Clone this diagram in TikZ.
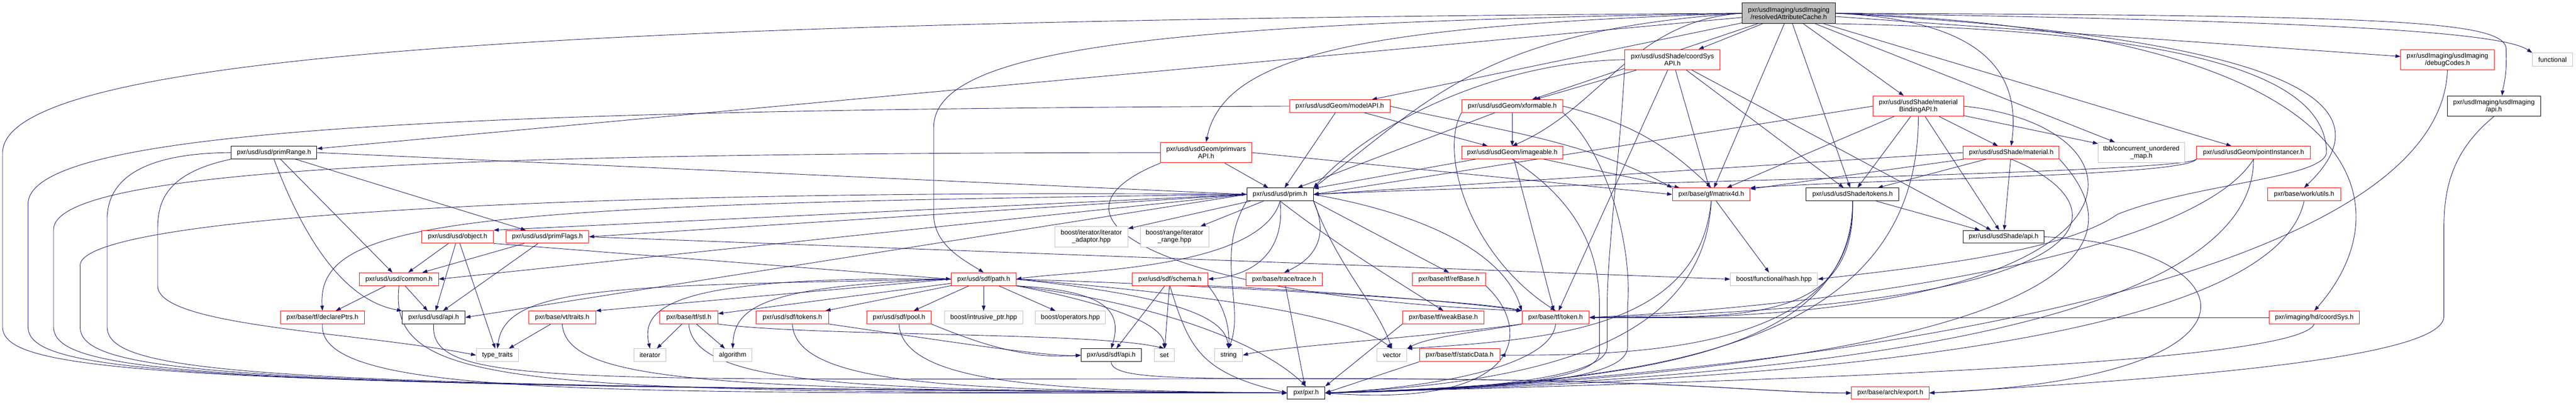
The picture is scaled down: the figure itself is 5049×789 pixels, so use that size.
\documentclass[tikz,border=0pt]{standalone}
\usepackage{fontspec}
\setmainfont{Liberation Sans}
\usetikzlibrary{arrows.meta,calc}
\pgfdeclarelayer{bg}
\pgfsetlayers{bg,main}
\definecolor{edgec}{HTML}{191970}
\definecolor{grayb}{HTML}{BFBFBF}
\tikzset{
  nb/.style={rectangle, fill=white, line width=1pt, inner sep=0pt, font=\fontsize{13}{14}\selectfont, align=center, minimum height=25pt},
  tw/.style={minimum height=40pt},
  rb/.style={nb, draw=red},
  kb/.style={nb, draw=black},
  gb/.style={nb, draw=grayb},
  w/.style={minimum width=#1pt},
  e/.style={draw=edgec, line width=0.9pt, -{Triangle[length=10pt,width=7pt]}},
}
\begin{document}
\begin{tikzpicture}[x=1pt,y=-1pt]
\useasboundingbox (0,0) rectangle (5049,789);
% row 0
\node[kb, tw, w=182, fill=grayb] (T) at (3506,26) {pxr/usdImaging/usdImaging\\/resolvedAttributeCache.h};
% row 1
\node[rb, tw, w=187] (C) at (3278,117) {pxr/usd/usdShade/coordSys\\API.h};
\node[rb, tw, w=183] (DC) at (4797,117) {pxr/usdImaging/usdImaging\\/debugCodes.h};
\node[gb, w=79, minimum height=26pt] (FN) at (5003,117) {functional};
% row 2
\node[rb, w=197] (M) at (2626,208) {pxr/usd/usdGeom/modelAPI.h};
\node[rb, w=198] (X) at (2964,208) {pxr/usd/usdGeom/xformable.h};
\node[rb, tw, w=177] (MB) at (3760,208) {pxr/usd/usdShade/material\\BindingAPI.h};
\node[kb, tw, w=183] (UIA) at (4888,208) {pxr/usdImaging/usdImaging\\/api.h};
% row 3
\node[kb, w=168] (PR) at (537,299) {pxr/usd/usd/primRange.h};
\node[rb, tw, w=178] (PV) at (2364,299) {pxr/usd/usdGeom/primvars\\API.h};
\node[rb, w=198] (I) at (2964,299) {pxr/usd/usdGeom/imageable.h};
\node[rb, w=188] (MA) at (3942,299) {pxr/usd/usdShade/material.h};
\node[gb, tw, w=169] (TBB) at (4197,299) {tbb/concurrent\_unordered\\\_map.h};
\node[rb, w=223] (PI) at (4417,299) {pxr/usd/usdGeom/pointInstancer.h};
% row 4
\node[kb, w=130] (P) at (2509,381) {pxr/usd/usd/prim.h};
\node[rb, w=152] (MX) at (3354,381) {pxr/base/gf/matrix4d.h};
\node[kb, w=182] (SK) at (3631,381) {pxr/usd/usdShade/tokens.h};
\node[rb, w=143] (WU) at (4516,381) {pxr/base/work/utils.h};
% row 5
\node[rb, w=140] (O) at (897,464) {pxr/usd/usd/object.h};
\node[rb, w=162] (PF) at (1073,464) {pxr/usd/usd/primFlags.h};
\node[gb, tw, w=143] (IA) at (2139,464) {boost/iterator/iterator\\\_adaptor.hpp};
\node[gb, tw, w=134] (IR) at (2302,464) {boost/range/iterator\\\_range.hpp};
\node[kb, w=159] (SA) at (3927,464) {pxr/usd/usdShade/api.h};
% row 6
\node[rb, w=155] (CM) at (782,547) {pxr/usd/usd/common.h};
\node[rb, w=127] (PA) at (1928,547) {pxr/usd/sdf/path.h};
\node[rb, w=149] (SC) at (2293,547) {pxr/usd/sdf/schema.h};
\node[rb, w=150] (TR) at (2517,547) {pxr/base/trace/trace.h};
\node[rb, w=143] (RB) at (2840,547) {pxr/base/tf/refBase.h};
\node[gb, w=171] (HH) at (3477,547) {boost/functional/hash.hpp};
% row 7
\node[rb, w=165] (DP) at (632,622) {pxr/base/tf/declarePtrs.h};
\node[kb, w=123] (UA) at (850,622) {pxr/usd/usd/api.h};
\node[rb, w=131] (VT) at (1102,622) {pxr/base/vt/traits.h};
\node[rb, w=114] (ST) at (1350,622) {pxr/base/tf/stl.h};
\node[rb, w=142] (STK) at (1553,622) {pxr/usd/sdf/tokens.h};
\node[rb, w=126] (PO) at (1762,622) {pxr/usd/sdf/pool.h};
\node[gb, w=154] (IP) at (1928,622) {boost/intrusive\_ptr.hpp};
\node[gb, w=137] (OP) at (2098,622) {boost/operators.hpp};
\node[rb, w=160] (WB) at (2829,622) {pxr/base/tf/weakBase.h};
\node[rb, w=132] (TK) at (3049,622) {pxr/base/tf/token.h};
\node[rb, w=177] (HC) at (4536,622) {pxr/imaging/hd/coordSys.h};
% row 8
\node[gb, w=83] (TT) at (975,696) {type\_traits};
\node[gb, w=63] (IT) at (1274,696) {iterator};
\node[gb, w=75] (AL) at (1436,696) {algorithm};
\node[kb, w=118] (SAPI) at (2178,696) {pxr/usd/sdf/api.h};
\node[gb, w=40] (SET) at (2282,696) {set};
\node[gb, w=55] (STR) at (2408,696) {string};
\node[gb, w=59] (VEC) at (2728,696) {vector};
\node[rb, w=158] (SD) at (2861,696) {pxr/base/tf/staticData.h};
% row 9
\node[kb, w=74] (PXR) at (2560,770) {pxr/pxr.h};
\node[rb, w=152] (EX) at (3705,770) {pxr/base/arch/export.h};

\begin{pgfonlayer}{bg}
\fill[white] (0,0) rectangle (5049,789);
% title
\draw[e] (T) -- (PR);
\draw[e] (T.west) .. controls (2900,60) and (2800,200) .. (P.north east);
\draw[e] (T) -- (M);
\draw[e] (T) -- (X);
\draw[e] (T.west) .. controls (3200,40) and (3140,210) .. (I.north);
\draw[e] (T.west) .. controls (2700,50) and (2400,100) .. (PV.north);
\draw[e] (T) -- (C);
\draw[e] (T) -- (MB);
\draw[e] (T.east) .. controls (3900,40) and (3960,150) .. (MA.north);
\draw[e] (T) -- (SK);
\draw[e] (T) -- (MX);
\draw[e] (T) -- (TBB);
\draw[e] (T) -- (PI);
\draw[e] (T) -- (DC);
\draw[e] (T.east) .. controls (4500,40) and (4900,60) .. (FN.north west);
\draw[e] (T.east) .. controls (4700,30) and (4920,40) .. (4912,100) .. controls (4914,150) and (4906,170) .. ($(UIA.north)+(16,0)$);
\draw[e] (T.east) .. controls (4600,80) and (4660,230) .. (WU.north);
\draw[e] (T.east) .. controls (4650,60) and (4720,400) .. (HC.north);
\draw[e] (T.south east) .. controls (4300,60) and (4560,150) .. (4560,300) .. controls (4550,350) and (4300,360) .. (4150,420) .. controls (4050,490) and (3800,520) .. (HH.east);
\draw[e] (T.west) .. controls (1200,40) and (5,100) .. (5,300) -- (5,640) .. controls (5,730) and (305,755) .. (PXR.west);
\draw[e] (T.west) .. controls (2300,45) and (1830,90) .. (1830,250) -- (1830,420) .. controls (1830,480) and (1890,510) .. (PA.north);
% coordSysAPI
\draw[e] (C.west) .. controls (2950,120) and (2700,230) .. (P.north east);
\draw[e] (C) -- (X);
\draw[e] (C) -- (TK);
\draw[e] (C.south west) .. controls (3175,300) and (3150,500) .. (3150,600) -- (3150,680) .. controls (3150,740) and (2900,765) .. (PXR.east);
\draw[e] (C) -- (MX);
\draw[e] (C) -- (SK);
\draw[e] (C) -- (SA);
% modelAPI
\draw[e] (M) -- (P);
\draw[e] (M) -- (I);
\draw[e] (M.east) .. controls (2900,250) and (3100,270) .. (MX.north west);
\draw[e] (M.west) .. controls (800,215) and (55,260) .. (55,400) -- (55,640) .. controls (55,732) and (355,756) .. (PXR.west);
% xformable
\draw[e] (X) -- (I);
\draw[e] (X) -- (P);
\draw[e] (X.south west) .. controls (2820,300) and (2880,500) .. (TK.north);
\draw[e] (X.east) to[bend left=15] (MX.north);
\draw[e] (X.south east) .. controls (3150,300) and (3200,480) .. (3190,600) -- (3190,680) .. controls (3190,745) and (2950,762) .. (PXR.east);
% imageable
\draw[e] (I) -- (P);
\draw[e] (I) -- (TK);
\draw[e] (I) -- (MX);
\draw[e] (I.south) .. controls (3100,400) and (3135,500) .. (3135,600) -- (3135,690) .. controls (3135,748) and (2900,764) .. (PXR.east);
% primvarsAPI
\draw[e] (PV) -- (P);
\draw[e] (PV.east) -- (MX.west);
\draw[e] (PV.south west) .. controls (2000,430) and (2300,580) .. (TK.north west);
\draw[e] (PV.west) .. controls (900,300) and (105,330) .. (105,450) -- (105,640) .. controls (105,734) and (405,757) .. (PXR.west);
% materialBindingAPI
\draw[e] (MB.west) -- (P.east);
\draw[e] (MB) -- (MX);
\draw[e] (MB) -- (SK);
\draw[e] (MB) -- (SA);
\draw[e] (MB) -- (MA);
\draw[e] (MB) -- (TBB);
\draw[e] (MB.east) .. controls (4250,250) and (4250,640) .. (TK.east);
\draw[e] (MB.south) .. controls (3760,700) and (3200,750) .. (PXR.east);
% material
\draw[e] (MA.west) -- (P.east);
\draw[e] (MA) -- (MX);
\draw[e] (MA) -- (SK);
\draw[e] (MA) -- (SA);
\draw[e] (MA.south) .. controls (4160,400) and (4180,600) .. (TK.east);
\draw[e] (MA.south east) .. controls (4350,650) and (3300,750) .. (PXR.east);
% pointInstancer
\draw[e] (PI.south west) .. controls (4280,340) and (3000,360) .. (P.east);
\draw[e] (PI.south west) .. controls (4280,345) and (3700,350) .. (MX.north east);
\draw[e] (PI.south) .. controls (4300,500) and (3600,600) .. (TK.east);
\draw[e] (PI.south) .. controls (4417,700) and (3200,750) .. (PXR.east);
% prim
\draw[e] (P.west) -- (O.north east);
\draw[e] (P.west) -- (PF.east);
\draw[e] (P.west) -- (CM.east);
\draw[e] (P.west) .. controls (900,400) and (620,430) .. (DP.north);
\draw[e] (P.west) -- (UA.east);
\draw[e] (P) -- (IA);
\draw[e] (P) -- (IR);
\draw[e] (P.south) .. controls (2470,530) and (2100,530) .. (PA.east);
\draw[e] (P.south) .. controls (2520,500) and (2450,540) .. (SC.east);
\draw[e] (P.south east) .. controls (2600,450) and (2590,500) .. (TR.north);
\draw[e] (P.south east) -- (RB.north);
\draw[e] (P.south) .. controls (2620,480) and (2720,540) .. (WB.north);
\draw[e] (P.east) .. controls (2800,420) and (2950,500) .. (TK.north west);
\draw[e] (P.south east) .. controls (2620,520) and (2700,600) .. (VEC.north);
\draw[e] (P.south west) .. controls (2380,500) and (2440,600) .. (STR.north);
\draw[e] (P.west) .. controls (1200,370) and (157,420) .. (157,520) -- (157,640) .. controls (157,735) and (457,757) .. (PXR.west);
% object
\draw[e] (O) -- (CM);
\draw[e] (O) -- (UA);
\draw[e] (O) -- (TT);
\draw[e] (O.south east) -- (PA.west);
% primFlags
\draw[e] (PF) -- (UA);
\draw[e] (PF) -- (CM);
\draw[e] (PF.east) -- (HH.west);
% usdShade api
\draw[e] (SA.east) .. controls (4400,480) and (4500,740) .. (EX.east);
% common
\draw[e] (CM) -- (DP);
\draw[e] (CM) -- (UA);
\draw[e] (CM.south) .. controls (760,760) and (1000,770) .. (PXR.west);
% path
\draw[e] (PA) -- (PO);
\draw[e] (PA) -- (IP);
\draw[e] (PA) -- (OP);
\draw[e] (PA.south east) .. controls (2170,570) and (2200,610) .. (SAPI.north);
\draw[e] (PA.south east) .. controls (2200,600) and (2280,640) .. (SET.north);
\draw[e] (PA.east) .. controls (2300,580) and (2400,620) .. (STR.north);
\draw[e] (PA.east) .. controls (2400,580) and (2650,620) .. (VEC.north);
\draw[e] (PA.east) .. controls (2400,560) and (2900,590) .. (TK.north west);
\draw[e] (PA) -- (STK);
\draw[e] (PA) -- (ST);
\draw[e] (PA.west) -- (VT.north east);
\draw[e] (PA.west) .. controls (1500,560) and (1440,600) .. (AL.north);
\draw[e] (PA.west) .. controls (1320,540) and (1255,600) .. (IT.north);
\draw[e] (PA.west) .. controls (1200,560) and (990,560) .. (TT.north);
\draw[e] (PA.south east) .. controls (2300,600) and (2480,680) .. (PXR.north);
% schema
\draw[e] (SC) -- (SAPI);
\draw[e] (SC.south east) .. controls (2400,600) and (2410,640) .. (STR.north);
\draw[e] (SC) -- (SET);
\draw[e] (SC.south east) .. controls (2600,570) and (2900,595) .. (TK.north west);
\draw[e] (SC.south) .. controls (2330,680) and (2350,730) .. (PXR.west);
% trace, refBase, weakBase
\draw[e] (TR) -- (PXR);
\draw[e] (RB.south east) .. controls (3000,640) and (3000,800) .. (PXR.east);
\draw[e] (WB.south west) -- (PXR.north east);
% token
\draw[e] (TK.south) .. controls (3040,720) and (2800,760) .. (PXR.east);
\draw[e] (TK.south west) .. controls (2900,650) and (2800,660) .. (VEC.north east);
\draw[e] (TK.south west) .. controls (2800,660) and (2500,680) .. (STR.east);
% staticData
\draw[e] (SD.south west) -- (PXR.east);
% matrix4d
\draw[e] (MX) -- (HH);
\draw[e] (MX.south) .. controls (3340,680) and (3000,750) .. (PXR.east);
\draw[e] (MX.south) .. controls (3330,640) and (3050,665) .. (VEC.north east);
% usdShade tokens
\draw[e] (SK) -- (SA);
\draw[e] (SK.south) .. controls (3640,640) and (3400,620) .. (TK.east);
\draw[e] (SK.south) .. controls (3631,700) and (3200,750) .. (PXR.east);
\draw[e] (SK.south) .. controls (3640,690) and (3200,696) .. (SD.east);
% work utils, hd coordSys, debugCodes, usdImaging api
\draw[e] (WU.south) .. controls (4450,700) and (3300,750) .. (PXR.east);
\draw[e] (HC.west) -- (TK.east);
\draw[e] (HC.south) .. controls (4500,720) and (3300,750) .. (PXR.east);
\draw[e] (DC.south) .. controls (4780,600) and (3300,750) .. (PXR.east);
\draw[e] (UIA.south) .. controls (4800,300) and (4790,380) .. (4790,450) -- (4790,620) .. controls (4790,700) and (4300,740) .. (EX.east);
% vt traits, stl, sdf tokens, pool, declarePtrs, usd api, sdf api
\draw[e] (VT) -- (TT);
\draw[e] (VT.south) .. controls (1110,750) and (1400,765) .. (PXR.west);
\draw[e] (ST) -- (IT);
\draw[e] (ST) -- (AL);
\draw[e] (ST.south) .. controls (1360,760) and (1700,765) .. (PXR.west);
\draw[e] (ST.south east) .. controls (1600,660) and (2150,650) .. (SET.north);
\draw[e] (STK.south east) .. controls (1800,660) and (2050,700) .. (SAPI.west);
\draw[e] (STK.south) .. controls (1560,760) and (1900,765) .. (PXR.west);
\draw[e] (PO.south east) .. controls (1900,665) and (2000,705) .. (SAPI.west);
\draw[e] (PO.south) .. controls (1770,760) and (2100,765) .. (PXR.west);
\draw[e] (DP.south) .. controls (620,780) and (1200,770) .. (PXR.west);
\draw[e] (UA.south) .. controls (840,760) and (1100,742) .. (2600,742) .. controls (3300,742) and (3450,770) .. (EX.west);
\draw[e] (SAPI.south) .. controls (2178,742) and (2300,742) .. (2600,742) .. controls (3300,742) and (3450,770) .. (EX.west);
% primRange
\draw[e] (PR.south) .. controls (600,480) and (680,590) .. (UA.north west);
\draw[e] (PR) -- (CM);
\draw[e] (PR) -- (PF);
\draw[e] (PR.east) -- (P.west);
\draw[e] (PR.west) .. controls (300,300) and (210,340) .. (210,430) -- (210,640) .. controls (210,735) and (510,757) .. (PXR.west);
\draw[e] (PR.south west) .. controls (320,340) and (309,400) .. (309,450) -- (309,560) .. controls (309,640) and (700,650) .. (TT.west);
\end{pgfonlayer}
\end{tikzpicture}
\end{document}
